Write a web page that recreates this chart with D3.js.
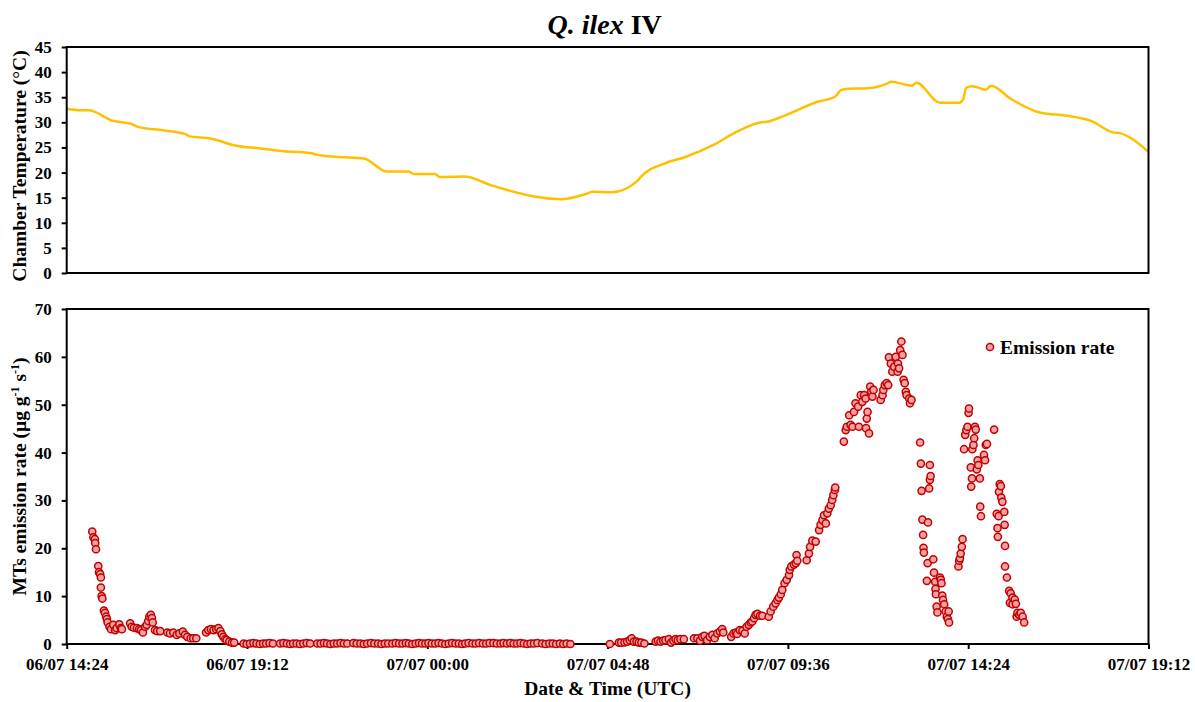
<!DOCTYPE html>
<html>
<head>
<meta charset="utf-8">
<script src="https://cdn.jsdelivr.net/npm/d3@7"></script>
<style>
  body { margin: 0; background: #fff; }
  text { font-family: "Liberation Serif", "Times New Roman", serif; font-weight: bold; fill: #000; }
</style>
</head>
<body>
<svg id="chart" width="1195" height="702"></svg>
<script>
// x positions are hours after 06/07 14:24 (UTC)
var xTickLabels = ["06/07 14:24", "06/07 19:12", "07/07 00:00", "07/07 04:48", "07/07 09:36", "07/07 14:24", "07/07 19:12"];
var tempTicks = [0, 5, 10, 15, 20, 25, 30, 35, 40, 45];
var emisTicks = [0, 10, 20, 30, 40, 50, 60, 70];

var tempHours = [0, 0.39, 0.58, 1.23, 1.72, 1.90, 2.58, 3.15, 3.27, 3.82, 4.48, 5.15, 5.72, 6.48, 6.63, 7.24, 7.91,
  8.53, 9.10, 9.24, 9.81, 9.93, 10.58, 11.33, 12.48, 13.19, 13.81, 14.00, 14.52, 15.20, 15.29, 15.95, 16.47,
  17.22, 17.83, 18.49, 18.64, 19.10, 19.95, 20.47, 20.61, 20.80, 21.32, 21.84, 21.95, 22.50, 22.62, 23.25,
  23.77, 23.86, 23.95, 24.10, 24.47, 24.61, 25.13, 25.93, 26.64, 27.30, 27.86, 28.00, 28.80];
var tempValues = [32.7, 32.4, 32.4, 30.3, 29.7, 29.1, 28.4, 27.7, 27.2, 26.8, 25.4, 24.8, 24.3, 23.9, 23.6, 23.1, 22.8,
  20.2, 20.2, 19.7, 19.7, 19.1, 19.2, 17.4, 15.2, 14.7, 15.7, 16.2, 16.1, 18.4, 19.2, 21.9, 23.1,
  25.5, 28.1, 30.0, 30.1, 31.3, 34.0, 35.2, 36.4, 36.7, 36.8, 37.7, 38.1, 37.3, 37.9, 33.9,
  33.9, 34.5, 36.9, 37.2, 36.5, 37.3, 34.7, 31.9, 31.3, 30.2, 28.0, 27.9, 24.1];

// MTs emission rate [hours, µg g-1 s-1]
var emission = [
  [0.68, 23.5], [0.71, 22.3], [0.75, 21.9], [0.76, 21.1], [0.78, 19.8], [0.84, 16.3], [0.86, 15.0], [0.89, 14.6],
  [0.91, 13.9], [0.91, 11.8], [0.93, 10.0], [0.95, 9.5], [0.99, 7.0], [1.02, 6.5], [1.05, 5.7], [1.07, 5.2],
  [1.09, 4.5], [1.14, 3.6], [1.18, 3.1], [1.24, 4.0], [1.29, 2.9], [1.33, 3.3], [1.40, 4.1], [1.44, 3.3], [1.47, 3.1],
  [1.69, 4.3], [1.73, 3.6], [1.79, 3.4], [1.87, 3.3], [1.93, 3.1], [1.98, 2.9], [2.03, 2.4], [2.09, 3.6], [2.13, 4.0],
  [2.17, 4.8], [2.20, 5.7], [2.24, 6.1], [2.27, 5.4], [2.29, 4.5], [2.35, 2.9], [2.41, 2.7], [2.49, 2.7],
  [2.68, 2.4], [2.75, 2.2], [2.84, 2.4], [2.93, 1.9], [3.00, 2.2], [3.09, 2.6], [3.15, 1.9], [3.21, 1.5], [3.30, 1.2],
  [3.37, 1.2], [3.45, 1.2],
  [3.71, 2.4], [3.77, 2.9], [3.84, 3.1], [3.91, 2.9], [3.98, 3.1], [4.04, 3.3], [4.09, 2.7], [4.13, 2.0], [4.17, 1.5],
  [4.22, 1.0], [4.26, 0.8], [4.33, 0.5], [4.40, 0.3], [4.46, 0.3],
  [4.71, 0.1], [4.79, 0.0], [4.88, 0.1], [4.97, 0.2], [5.05, 0.1], [5.14, 0.0], [5.23, 0.1], [5.31, 0.1], [5.40, 0.2], [5.49, 0.1],
  [5.68, 0.1], [5.77, 0.2], [5.86, 0.1], [5.95, 0.0], [6.03, 0.1], [6.12, 0.1], [6.21, 0.0], [6.30, 0.1], [6.39, 0.2], [6.48, 0.1],
  [6.67, 0.1], [6.76, 0.1], [6.85, 0.2], [6.93, 0.1], [7.02, 0.0], [7.11, 0.1], [7.20, 0.1], [7.29, 0.2], [7.38, 0.1], [7.47, 0.1],
  [7.63, 0.2], [7.72, 0.1], [7.82, 0.1], [7.91, 0.0], [8.00, 0.1], [8.10, 0.2], [8.19, 0.1], [8.29, 0.1], [8.38, 0.0], [8.47, 0.1], [8.56, 0.1],
  [8.67, 0.1], [8.76, 0.2], [8.85, 0.1], [8.94, 0.1], [9.03, 0.2], [9.11, 0.1], [9.20, 0.0], [9.29, 0.1], [9.38, 0.2], [9.46, 0.1], [9.55, 0.1],
  [9.63, 0.2], [9.72, 0.1], [9.81, 0.1], [9.90, 0.2], [9.99, 0.1], [10.08, 0.0], [10.17, 0.1], [10.26, 0.2], [10.35, 0.1], [10.44, 0.1], [10.53, 0.0],
  [10.61, 0.1], [10.70, 0.2], [10.80, 0.1], [10.89, 0.1], [10.98, 0.2], [11.08, 0.1], [11.17, 0.1], [11.26, 0.2], [11.36, 0.2], [11.45, 0.1], [11.55, 0.1],
  [11.63, 0.2], [11.72, 0.1], [11.81, 0.2], [11.90, 0.1], [11.99, 0.1], [12.08, 0.2], [12.17, 0.1], [12.26, 0.0], [12.35, 0.1], [12.44, 0.1], [12.53, 0.2],
  [12.66, 0.1], [12.75, 0.0], [12.85, 0.1], [12.94, 0.1], [13.03, 0.0], [13.13, 0.1], [13.22, 0.0], [13.31, 0.1], [13.41, 0.0],
  [14.46, 0.0], [14.70, 0.3], [14.76, 0.3], [14.85, 0.35], [14.92, 0.5], [14.99, 0.8], [15.04, 1.2], [15.10, 0.5],
  [15.17, 0.5], [15.23, 0.3], [15.30, 0.3], [15.38, 0.1],
  [15.68, 0.5], [15.74, 0.7], [15.81, 0.5], [15.88, 0.7], [15.94, 0.8], [16.03, 1.0], [16.09, 0.3], [16.15, 0.7],
  [16.21, 1.0], [16.27, 0.8], [16.34, 1.0], [16.43, 1.0],
  [16.70, 1.2], [16.79, 1.2], [16.86, 0.7], [16.92, 1.5], [16.98, 1.7], [17.05, 0.8], [17.12, 1.5], [17.19, 1.9],
  [17.25, 1.2], [17.32, 2.2], [17.39, 2.6], [17.45, 3.1], [17.48, 2.4],
  [17.69, 1.5], [17.75, 2.2], [17.81, 2.4], [17.85, 2.1], [17.92, 2.9], [17.99, 2.8], [18.05, 2.2], [18.10, 3.6],
  [18.16, 4.0], [18.21, 4.5], [18.25, 4.7], [18.30, 5.4], [18.34, 6.1], [18.39, 6.3], [18.46, 5.9], [18.52, 5.9],
  [18.69, 5.7], [18.74, 6.8], [18.81, 7.8], [18.87, 8.5], [18.92, 9.2], [18.96, 9.7], [19.01, 10.4], [19.05, 11.3],
  [19.11, 12.7], [19.17, 13.4], [19.23, 14.4], [19.25, 15.5], [19.29, 16.2], [19.36, 16.6], [19.41, 16.9], [19.43, 18.6], [19.45, 17.4],
  [19.70, 17.5], [19.76, 18.9], [19.79, 20.3], [19.85, 21.6], [19.94, 21.4], [20.03, 23.8], [20.07, 24.9], [20.12, 25.9],
  [20.16, 26.9], [20.21, 25.2], [20.25, 27.3], [20.29, 28.3], [20.34, 29.0], [20.38, 30.1], [20.41, 31.1], [20.45, 32.2], [20.46, 32.7],
  [20.69, 42.3], [20.74, 44.7], [20.77, 45.4], [20.83, 47.8], [20.87, 45.8], [20.92, 45.4], [20.96, 48.5], [21.00, 50.3],
  [21.07, 49.6], [21.09, 45.4], [21.14, 52.0], [21.18, 50.6], [21.23, 52.0], [21.27, 51.3], [21.28, 45.1], [21.30, 47.1],
  [21.32, 48.5], [21.36, 44.0], [21.39, 53.8], [21.42, 52.7], [21.45, 51.7], [21.48, 53.1],
  [21.67, 51.0], [21.72, 52.0], [21.74, 53.1], [21.78, 54.1], [21.83, 54.5], [21.87, 54.1], [21.89, 59.9], [21.94, 58.6],
  [21.98, 56.9], [22.03, 57.9], [22.07, 60.0], [22.12, 56.9], [22.13, 58.6], [22.16, 57.6], [22.19, 61.4], [22.22, 63.2],
  [22.25, 60.4], [22.28, 55.2], [22.31, 54.5], [22.34, 52.7], [22.36, 52.0], [22.43, 51.3], [22.45, 50.3], [22.49, 51.0],
  [22.72, 42.1], [22.74, 37.7], [22.76, 32.0], [22.78, 26.0], [22.80, 22.8], [22.81, 20.1], [22.82, 19.1], [22.90, 13.2],
  [22.92, 16.9], [22.93, 25.4], [22.96, 32.5], [22.98, 34.3], [22.98, 37.4], [23.00, 35.1], [23.07, 17.7], [23.09, 14.9],
  [23.12, 13.0], [23.13, 11.5], [23.14, 10.4], [23.16, 7.8], [23.18, 6.6], [23.25, 13.9], [23.27, 13.4], [23.29, 12.7],
  [23.31, 10.1], [23.33, 9.2], [23.36, 8.3], [23.40, 6.8], [23.43, 5.7], [23.46, 5.2], [23.48, 6.8], [23.49, 4.5],
  [23.74, 16.2], [23.76, 17.4], [23.78, 17.9], [23.80, 18.9], [23.83, 20.3], [23.85, 21.9], [23.89, 40.7], [23.92, 43.7],
  [23.95, 44.7], [23.98, 45.4], [24.01, 48.3], [24.02, 49.2], [24.07, 36.9], [24.08, 32.9], [24.10, 34.6], [24.11, 40.7],
  [24.14, 41.6], [24.16, 43.0], [24.18, 45.4], [24.20, 44.8], [24.23, 36.5], [24.25, 38.4], [24.27, 37.4], [24.31, 34.6],
  [24.32, 28.7], [24.34, 26.7], [24.42, 39.5], [24.45, 38.4], [24.47, 41.6], [24.50, 41.8], [24.69, 44.8],
  [24.76, 27.2], [24.78, 24.2], [24.79, 22.4], [24.81, 26.7], [24.82, 31.8], [24.84, 33.4], [24.87, 33.0], [24.88, 30.6],
  [24.91, 29.7], [24.96, 27.6], [24.97, 24.9], [24.98, 20.5], [24.98, 16.2], [25.03, 13.9], [25.09, 11.1], [25.11, 8.6],
  [25.13, 10.6], [25.18, 9.7], [25.18, 8.3], [25.24, 9.3], [25.27, 8.4], [25.29, 5.7], [25.31, 6.5], [25.36, 6.1],
  [25.40, 6.5], [25.45, 5.7], [25.49, 4.5]
];

var svg = d3.select("#chart");
var LEFT = 66.7, RIGHT = 1148.5;
var TOP1 = 47, BOT1 = 273, TOP2 = 309, BOT2 = 644;

var x = d3.scaleLinear().domain([0, 28.8]).range([LEFT, RIGHT]);
var yT = d3.scaleLinear().domain([0, 45]).range([BOT1, TOP1]);
var yE = d3.scaleLinear().domain([0, 70]).range([BOT2, TOP2]);

// title
var title = svg.append("text").attr("x", (LEFT + RIGHT) / 2 - 3).attr("y", 34)
  .attr("text-anchor", "middle").style("font-size", "28px");
title.append("tspan").style("font-style", "italic").text("Q. ilex");
title.append("tspan").text(" IV");

function styleAxis(g) {
  g.select(".domain").remove();
  g.selectAll(".tick line").attr("stroke", "#000").attr("stroke-width", 2);
  g.selectAll(".tick text").style("font-size", "17px").style("font-family", "'Liberation Serif', serif").style("font-weight", "bold");
}

// ----- top panel: chamber temperature
svg.append("g").attr("transform", "translate(" + LEFT + ",0)")
  .call(d3.axisLeft(yT).tickValues(tempTicks).tickSize(5).tickPadding(10))
  .call(styleAxis);

var tempLine = d3.line()
  .x(function(d, i) { return x(tempHours[i]); })
  .y(function(d) { return yT(d); })
  .curve(d3.curveMonotoneX);

svg.append("path").datum(tempValues)
  .attr("d", tempLine)
  .attr("fill", "none")
  .attr("stroke", "#FFC000")
  .attr("stroke-width", 2.5);

svg.append("rect").attr("x", LEFT).attr("y", TOP1).attr("width", RIGHT - LEFT).attr("height", BOT1 - TOP1)
  .attr("fill", "none").attr("stroke", "#000").attr("stroke-width", 2);

svg.append("text").attr("transform", "translate(26," + ((TOP1 + BOT1) / 2 + 6) + ") rotate(-90)")
  .attr("text-anchor", "middle").style("font-size", "19.5px")
  .text("Chamber Temperature (°C)");

// ----- bottom panel: emission rate
svg.append("g").attr("transform", "translate(" + LEFT + ",0)")
  .call(d3.axisLeft(yE).tickValues(emisTicks).tickSize(5).tickPadding(10))
  .call(styleAxis);

svg.append("g").attr("transform", "translate(0," + BOT2 + ")")
  .call(d3.axisBottom(x).tickValues(d3.range(0, 7).map(function(i) { return i * 4.8; }))
    .tickFormat(function(d, i) { return xTickLabels[i]; }).tickSize(5).tickPadding(9))
  .call(styleAxis);

svg.append("rect").attr("x", LEFT).attr("y", TOP2).attr("width", RIGHT - LEFT).attr("height", BOT2 - TOP2)
  .attr("fill", "none").attr("stroke", "#000").attr("stroke-width", 2);

svg.append("g").selectAll("circle").data(emission).enter().append("circle")
  .attr("cx", function(d) { return x(d[0]); })
  .attr("cy", function(d) { return yE(d[1]); })
  .attr("r", 3.6)
  .attr("fill", "#F2A2A2")
  .attr("stroke", "#C00000")
  .attr("stroke-width", 1.5);

var ylab = svg.append("text").attr("transform", "translate(26," + ((TOP2 + BOT2) / 2) + ") rotate(-90)")
  .attr("text-anchor", "middle").style("font-size", "19.5px");
ylab.append("tspan").text("MTs emission rate (µg g");
ylab.append("tspan").attr("dy", -7).style("font-size", "12px").text("-1");
ylab.append("tspan").attr("dy", 7).text(" s");
ylab.append("tspan").attr("dy", -7).style("font-size", "12px").text("-1");
ylab.append("tspan").attr("dy", 7).text(")");

svg.append("text").attr("x", (LEFT + RIGHT) / 2).attr("y", 695)
  .attr("text-anchor", "middle").style("font-size", "19.5px")
  .text("Date & Time (UTC)");

// legend
var leg = svg.append("g").attr("transform", "translate(990,347)");
leg.append("circle").attr("r", 3.6).attr("fill", "#F2A2A2").attr("stroke", "#C00000").attr("stroke-width", 1.5);
leg.append("text").attr("x", 10).attr("y", 6.5).style("font-size", "19.5px").text("Emission rate");
</script>
</body>
</html>
